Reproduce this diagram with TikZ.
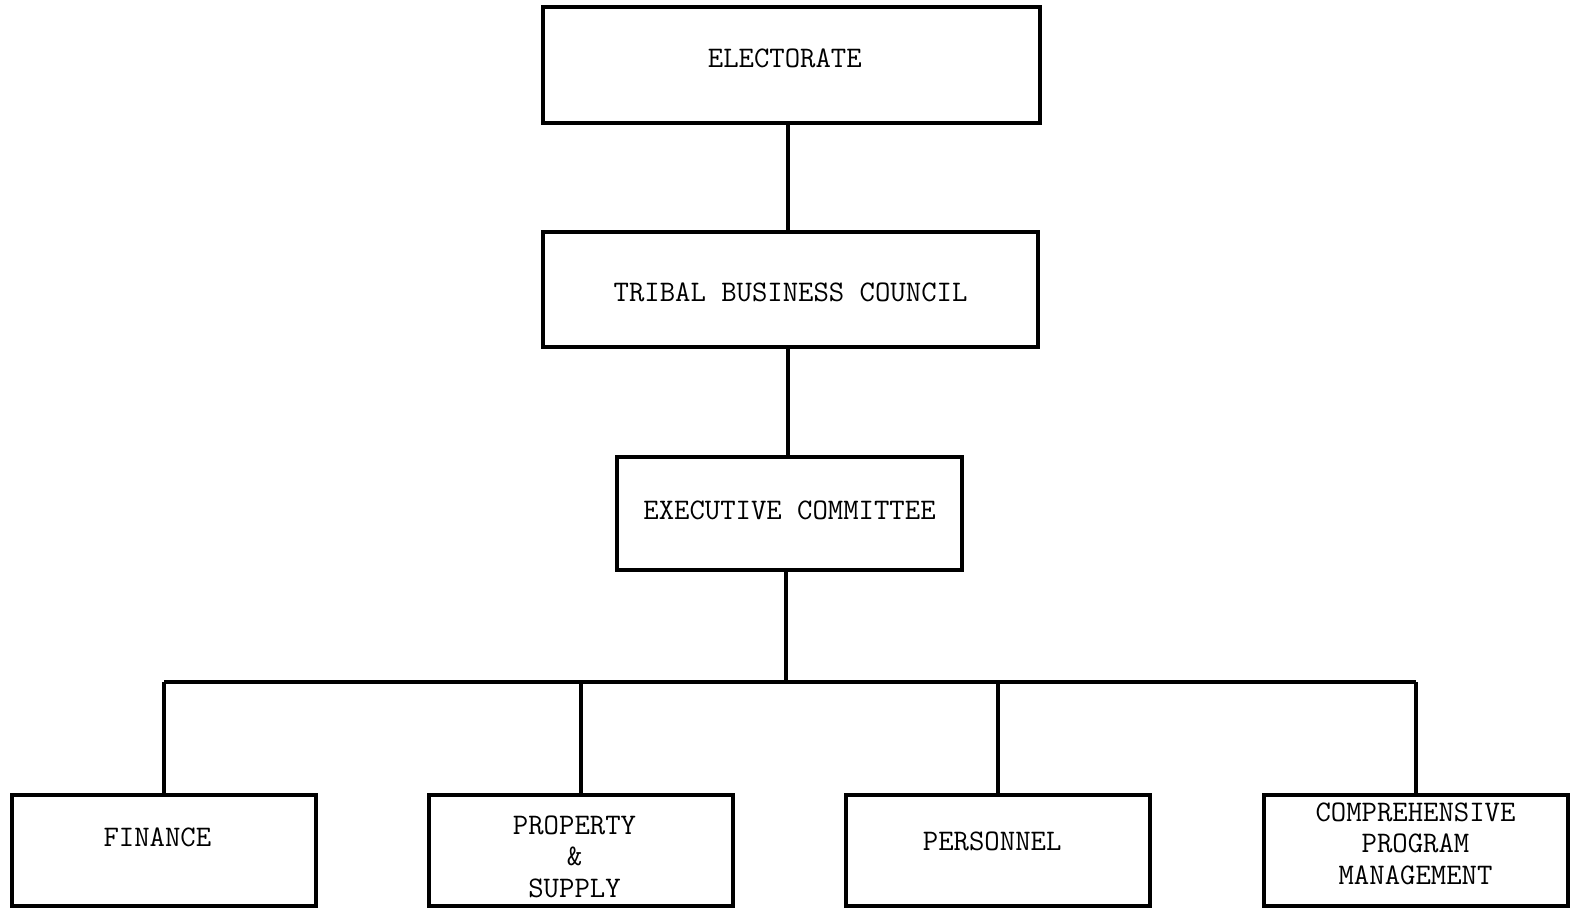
\documentclass[tikz,border=0pt]{standalone}
\usetikzlibrary{positioning}

\tikzset{every picture/.style={line width=0.75pt}}
\tikzset{
	orgbox/.style={draw, line width=3pt, inner sep=0pt},
	unitbox/.style={orgbox, minimum width=228pt, minimum height=83.25pt},
	boxtext/.style={inner sep=0pt, align=center,
		font=\fontsize{22.4}{23.6}\selectfont\ttfamily},
	link/.style={line width=3pt}
}

\begin{document}
\begin{tikzpicture}[x=0.75pt,y=0.75pt,yscale=-1,xscale=1]
	\useasboundingbox (0,0) rectangle (1573,910);

	%Shape: Rectangle
	\node[orgbox, minimum width=372.75pt, minimum height=87pt] (elect) at (791.5,65) {};
	%Shape: Rectangle
	\node[orgbox, minimum width=371.25pt, minimum height=86.25pt] (council) at (790.5,289.5) {};
	%Shape: Rectangle
	\node[orgbox, minimum width=258.75pt, minimum height=84.75pt] (exec) at (789.5,513.5) {};

	%Shape: Rectangle
	\node[unitbox] (finance) at (164,850.5) {};
	%Shape: Rectangle
	\node[unitbox] (property) at (580.5,850.5) {};
	%Shape: Rectangle
	\node[unitbox] (personnel) at (997.5,850.5) {};
	%Shape: Rectangle
	\node[unitbox] (program) at (1415.5,850.5) {};

	% Text Node
	\node[boxtext, xshift=-5pt, yshift=5pt] (electlabel) at (elect) {ELECTORATE};
	% Text Node
	\node[boxtext, yshift=-2.5pt] (councillabel) at (council) {TRIBAL BUSINESS COUNCIL};
	% Text Node
	\node[boxtext, yshift=2.5pt] (execlabel) at (exec) {EXECUTIVE COMMITTEE};
	% Text Node
	\node[boxtext, xshift=-5pt, yshift=10pt] (financelabel) at (finance) {FINANCE};
	% Text Node
	\node[boxtext, xshift=-4.5pt, yshift=-4.5pt] (propertylabel) at (property) {PROPERTY\\\&\\SUPPLY};
	% Text Node
	\node[boxtext, xshift=-4pt, yshift=7pt] (personnellabel) at (personnel) {PERSONNEL};
	% Text Node
	\node[boxtext, yshift=5pt] (programlabel) at (program) {COMPREHENSIVE\\PROGRAM\\MANAGEMENT};

	\coordinate (spine) at (788,0);
	\coordinate (bus) at (786,682);

	%Straight Lines
	\draw[link] (elect.south -| spine) -- (council.north -| spine);
	\draw[link] (council.south -| spine) -- (exec.north -| spine);
	\draw[link] (exec.south -| bus) -- (bus);
	%Straight Lines
	\draw[link] (finance.north |- bus) -- (program.north |- bus);
	\draw[link] (finance.north) -- (finance.north |- bus);
	\draw[link] (property.north) -- (property.north |- bus);
	\draw[link] (personnel.north) -- (personnel.north |- bus);
	\draw[link] (program.north) -- (program.north |- bus);

\end{tikzpicture}
\end{document}
